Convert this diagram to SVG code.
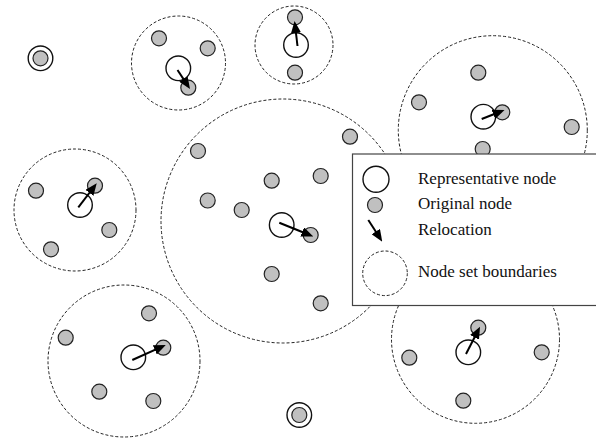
<svg xmlns="http://www.w3.org/2000/svg" width="596" height="438" viewBox="0 0 596 438">
<style>
.set{fill:none;stroke:#222;stroke-width:1;stroke-dasharray:3 2}
.orig{fill:#c0c0c0;stroke:#222;stroke-width:1.2}
.rep{fill:#fff;stroke:#111;stroke-width:1.4}
.repo{fill:none;stroke:#111;stroke-width:1.4}
.mv{stroke:#000;stroke-width:2;fill:none;marker-end:url(#ah)}
.lbl{font-family:"Liberation Serif","Times New Roman",serif;font-size:17px;fill:#111}
</style>
<defs>
<marker id="ah" markerUnits="userSpaceOnUse" viewBox="0 0 12 10" markerWidth="12" markerHeight="10" refX="8" refY="5" orient="auto">
<path d="M0,0 L12,5 L0,10 z" fill="#000"/>
</marker>
</defs>

<g id="isolated-1"><circle class="rep" cx="40.5" cy="58.3" r="12.3"/><circle class="orig" cx="40.5" cy="58.3" r="7.5"/></g>
<g id="isolated-2"><circle class="rep" cx="299.3" cy="415" r="12.3"/><circle class="orig" cx="299.3" cy="415" r="7.5"/></g>

<g id="set-1">
<circle class="set" cx="178.5" cy="63" r="47"/>
<circle class="orig" cx="159" cy="38.3" r="7.5"/>
<circle class="orig" cx="207.7" cy="48.3" r="7.5"/>
<circle class="rep" cx="178.3" cy="68.3" r="12.3"/>
<circle class="orig" cx="188.3" cy="87.7" r="7.5"/>
</g>

<g id="set-2">
<circle class="set" cx="294" cy="45" r="39"/>
<circle class="orig" cx="295" cy="17.3" r="7.5"/>
<circle class="rep" cx="296" cy="45" r="12.3"/>
<circle class="orig" cx="295" cy="72.7" r="7.5"/>
</g>

<g id="set-3">
<circle class="set" cx="492.8" cy="130.2" r="94.5"/>
<circle class="orig" cx="478.3" cy="72.7" r="7.5"/>
<circle class="orig" cx="419" cy="102.3" r="7.5"/>
<circle class="rep" cx="483.3" cy="116.7" r="12.3"/>
<circle class="orig" cx="502.3" cy="112.3" r="7.5"/>
<circle class="orig" cx="571.7" cy="127" r="7.5"/>
<circle class="orig" cx="482.7" cy="149" r="7.5"/>
</g>

<g id="set-4">
<circle class="set" cx="75" cy="210" r="61"/>
<circle class="orig" cx="36" cy="190.7" r="7.5"/>
<circle class="rep" cx="80" cy="205" r="12.3"/>
<circle class="orig" cx="95" cy="185.7" r="7.5"/>
<circle class="orig" cx="109.3" cy="230" r="7.5"/>
<circle class="orig" cx="51" cy="249.3" r="7.5"/>
</g>

<g id="set-5">
<circle class="set" cx="283" cy="221" r="122"/>
<circle class="orig" cx="350" cy="136.7" r="7.5"/>
<circle class="orig" cx="198" cy="151" r="7.5"/>
<circle class="orig" cx="271.7" cy="180.7" r="7.5"/>
<circle class="orig" cx="320.7" cy="176" r="7.5"/>
<circle class="orig" cx="207.7" cy="200.5" r="7.5"/>
<circle class="orig" cx="241.7" cy="210" r="7.5"/>
<circle class="rep" cx="281.7" cy="225" r="12.3"/>
<circle class="orig" cx="310.7" cy="235" r="7.5"/>
<circle class="orig" cx="271.7" cy="274" r="7.5"/>
<circle class="orig" cx="320.7" cy="303.3" r="7.5"/>
</g>

<g id="set-6">
<circle class="set" cx="124" cy="361" r="76"/>
<circle class="orig" cx="149" cy="313.3" r="7.5"/>
<circle class="orig" cx="65.7" cy="337.7" r="7.5"/>
<circle class="rep" cx="133.3" cy="357.3" r="12.3"/>
<circle class="orig" cx="163.3" cy="347.7" r="7.5"/>
<circle class="orig" cx="99.3" cy="391.7" r="7.5"/>
<circle class="orig" cx="153.3" cy="401" r="7.5"/>
</g>

<g id="set-7">
<circle class="set" cx="475.5" cy="339.3" r="84"/>
<circle class="rep" cx="468.3" cy="352.3" r="12.3"/>
<circle class="orig" cx="478.3" cy="327.7" r="7.5"/>
<circle class="orig" cx="409.3" cy="357.7" r="7.5"/>
<circle class="orig" cx="541.7" cy="352.3" r="7.5"/>
<circle class="orig" cx="463.3" cy="400.7" r="7.5"/>
</g>

<g id="connectors">
<line class="mv" x1="177.5" y1="70" x2="187.8" y2="85.6"/>
<line class="mv" x1="297.5" y1="46" x2="295" y2="25"/>
<line class="mv" x1="481.7" y1="119" x2="500.8" y2="111.5"/>
<line class="mv" x1="78.3" y1="207.3" x2="94.3" y2="186.5"/>
<line class="mv" x1="279.3" y1="222.7" x2="309.6" y2="235"/>
<line class="mv" x1="132.3" y1="360" x2="162.1" y2="346.6"/>
<line class="mv" x1="466" y1="354" x2="478.2" y2="330.3"/>
</g>

<g id="legend">
<rect x="352.5" y="154" width="250" height="151.5" fill="#fff" stroke="#444" stroke-width="1.2"/>
<circle class="rep" cx="376" cy="179.3" r="13"/>
<circle class="orig" cx="375" cy="205" r="7.5"/>
<line class="mv" x1="368.3" y1="220" x2="380.1" y2="238.3"/>
<circle class="set" cx="385" cy="273.3" r="22.3"/>
<text class="lbl" x="418" y="184">Representative node</text>
<text class="lbl" x="418" y="209">Original node</text>
<text class="lbl" x="418" y="234.5">Relocation</text>
<text class="lbl" x="418" y="277">Node set boundaries</text>
</g>
</svg>
